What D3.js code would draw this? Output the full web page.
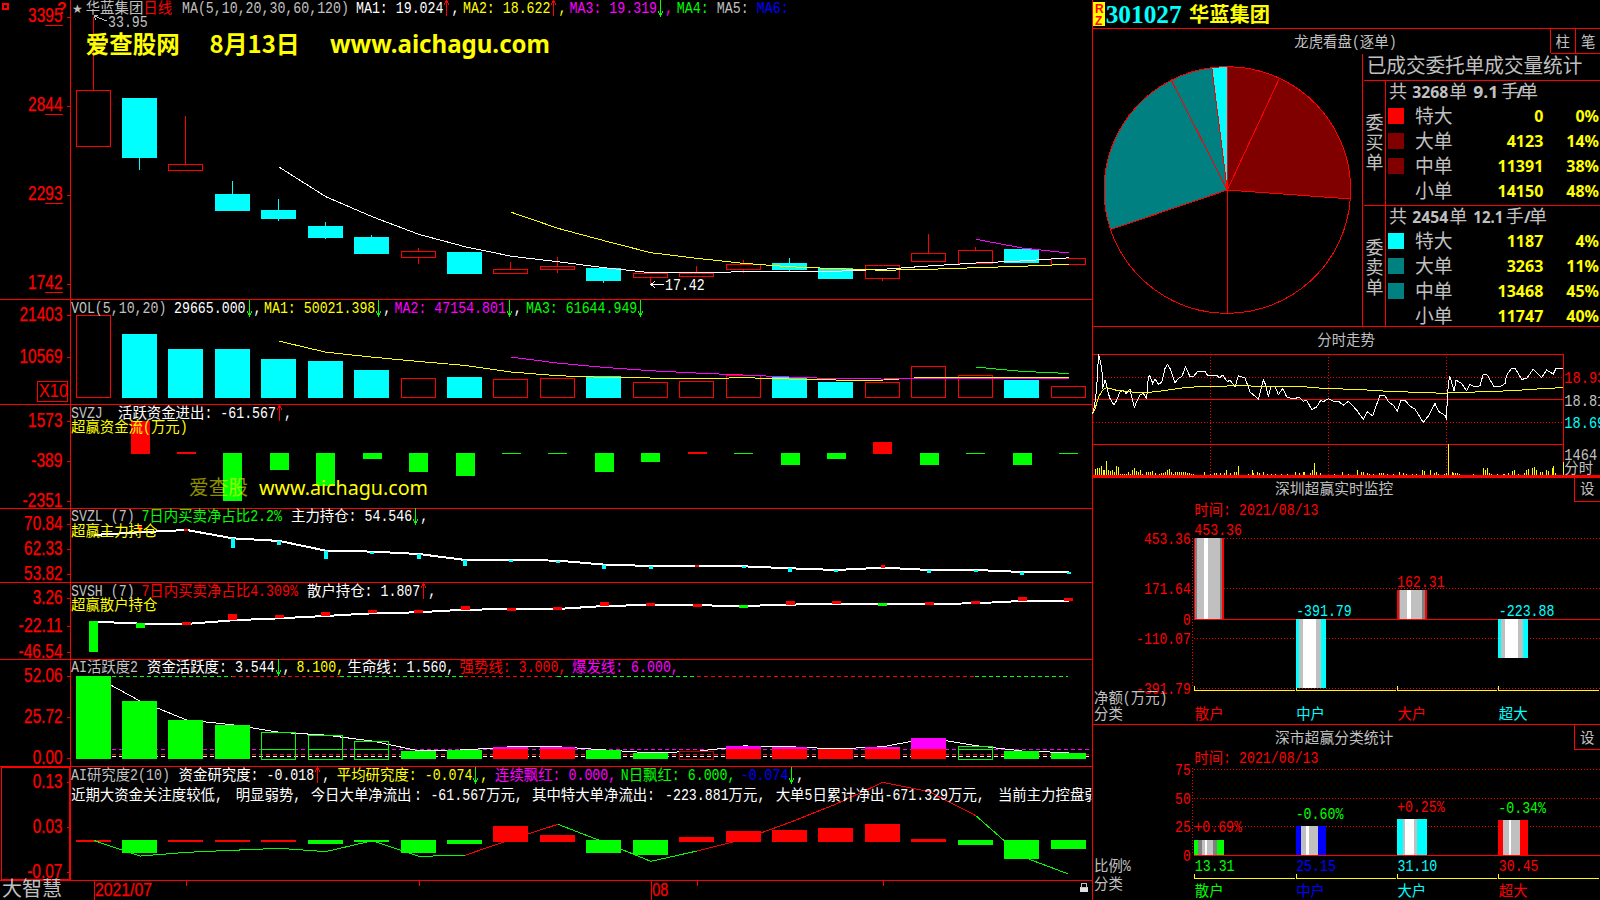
<!DOCTYPE html>
<html><head><meta charset="utf-8">
<style>html,body{margin:0;background:#000;overflow:hidden}svg{display:block}text{white-space:pre}</style>
<script src="https://cdn.jsdelivr.net/npm/d3@7"></script></head><body>
<svg id="c" width="1600" height="900"></svg>
<script>
// ---------- data ----------
const days=["07-15","07-16","07-19","07-20","07-21","07-22","07-23","07-26","07-27","07-28","07-29","07-30","08-02","08-03","08-04","08-05","08-06","08-09","08-10","08-11","08-12","08-13"];
const candleOpen=[25.96,28.92,24.48,22.97,21.98,20.99,20.31,19.09,19.38,18.10,18.35,18.39,17.85,17.92,18.31,18.70,18.39,17.79,18.84,18.72,19.57,18.66];
const candleClose=[29.39,25.28,24.81,21.98,21.49,20.31,19.32,19.43,18.08,18.31,18.50,17.65,18.06,18.10,18.64,18.33,17.77,18.56,19.30,19.49,18.76,18.99];
const candleHigh=[33.95,28.92,27.80,23.76,22.66,21.24,20.43,19.63,19.38,18.76,19.05,18.39,18.06,18.52,18.89,19.01,18.39,18.56,20.50,19.69,19.57,19.10];
const candleLow=[25.96,24.46,24.48,21.98,21.30,20.19,19.32,18.64,18.08,18.02,18.08,17.46,17.42,17.92,18.08,18.21,17.71,17.59,18.84,18.72,18.76,18.66];
const priceMA1=[null,null,null,null,24.63,22.81,21.57,20.48,19.71,19.12,18.78,18.41,18.10,18.10,18.16,18.19,18.19,18.31,18.52,18.70,18.83,19.02];
const priceMA2=[null,null,null,null,null,null,null,null,null,21.84,20.85,20.08,19.34,18.99,18.68,18.47,18.35,18.25,18.31,18.41,18.50,18.62];
const priceMA3=[null,null,null,null,null,null,null,null,null,null,null,null,null,null,null,null,null,null,null,20.17,19.63,19.32];
const priceTicks=[33.95,28.44,22.93,17.42];
const volume=[21403,16528,12618,12618,10011,9489,7143,4971,5318,4719,4971,5579,3928,4189,5753,5145,4015,3928,8099,5753,4536,2966];
const volumeHollow=[1,0,0,0,0,0,0,1,0,1,1,0,1,1,1,0,0,1,1,1,0,1];
const volMA1=[null,null,null,null,14617,11749,10445,9316,8273,6535,5579,5144,4970,4797,5057,4710,4449,4449,5231,5231,5231,5002];
const volMA2=[null,null,null,null,null,null,null,null,null,10445,8881,7751,6882,6274,5753,5231,4797,4710,4970,4970,4970,4715];
const volMA3=[null,null,null,null,null,null,null,null,null,null,null,null,null,null,null,null,null,null,null,7838,6708,6164];
const volTicks=[21403,10569];
const svzj=[null,1573,50,-2351,-834,-1650,-294,-932,-1128,-33,-25,-932,-441,49,-25,-589,-294,540,-589,-25,-589,-62];
const svzjTicks=[1573,-389,-2351];
const svzlLine=[67.21,68.12,68.91,66.07,65.17,61.88,61.54,60.74,58.70,58.70,58.47,57.11,56.66,56.66,56.54,55.86,55.29,56.09,55.29,55.29,54.61,54.55];
const svzlDelta=[null,2.5,0.34,-3.18,-1.36,-2.84,-0.68,-1.59,-2.04,-0.34,-0.45,-1.48,-1.02,0.34,-0.45,-1.25,-0.68,0.91,-1.02,-0.34,-1.02,-0.68];
const svzlTicks=[70.84,62.33,53.82];
const svshLine=[-18.50,-20.37,-20.68,-17.26,-15.39,-13.22,-10.73,-9.80,-7.31,-7.00,-6.69,-3.89,-2.96,-3.27,-3.89,-2.65,-1.71,-2.03,-2.03,-1.40,0.77,1.20];
const svshDelta=[-28,-4.04,0.93,4.97,2.17,2.8,2.17,1.0,2.17,0.6,0.6,2.8,0.6,0.6,-1.2,2.0,1.2,-1.2,1.2,1.2,2.8,1.2];
const svshTicks=[3.26,-22.11,-46.54];
const activity=[52.06,36.1,24.2,21.1,16.4,14.6,10.9,4.7,5.3,7.3,7.3,5.3,3.4,4.4,7.8,7.3,5.9,7.3,12.8,8.0,4.6,3.54];
const activityKind=["g","g","g","g","hg","hg","hg","g","g","r","r","g","g","hr","r","r","r","r","r","hg","g","g"];
const activityTicks=[52.06,25.72,0];
const research=[0.002,-0.028,0.001,0.001,0.001,-0.006,-0.002,-0.028,-0.006,0.033,0.013,-0.027,-0.031,0.009,0.022,0.024,0.029,0.038,0.004,-0.009,-0.040,-0.018];
const researchAvg=[0.001,-0.034,-0.0256,-0.0211,-0.0167,-0.024,0,-0.0345,-0.0322,0.0033,0.0367,-0.0033,-0.0456,-0.0226,0.0033,0.041,0.082,0.13,0.109,0.056,-0.035,-0.074];
const researchTicks=[0.13,0.03,-0.07];
const weekTickDays=["07-19","07-26","08-03","08-09"];
const monthTickDays=["07-15","08-02"];

const pieLabels=["买特大","买大单","买中单","买小单","卖小单","卖中单","卖大单","卖特大"];
const pieValues=[0,4123,11391,14150,11747,13468,3263,1187];
const buyRows=["特大","大单","中单","小单"], buyVol=[0,4123,11391,14150], buyPct=["0%","14%","38%","48%"];
const sellRows=["特大","大单","中单","小单"], sellVol=[1187,3263,13468,11747], sellPct=["4%","11%","45%","40%"];

const tMin=[0,1,2,3,4,5,5.1,6.3,7.1,8,8.8,10.9,12.2,13.9,15.6,17,19,21.2,22.4,24.1,25.8,27.5,28.4,29.2,30.6,31.8,33.5,35.2,36.9,38.2,39.4,42,43.7,45.4,47.4,49.6,51.3,53.4,57.3,58.5,63.2,64.6,66.3,68.7,70,72.6,74.3,77.7,80.2,84.5,87,87.9,89.6,90.8,93,94.7,96.9,98.9,102.7,105.2,107.4,109.1,111.7,114.2,116.3,117.6,120.2,122.7,125.3,127.8,130.4,134.6,138,140.1,142.8,146.5,149.1,150.8,153.3,155.4,157.1,159.3,161.8,164.4,168.6,171.2,174.6,176.3,180,180.3,181.4,182.2,184.3,185.3,188.2,190.7,192.4,195,197.5,199.2,201.3,204.7,207.7,210.3,211.1,213.7,215.4,218.8,221.3,224.7,229,231.5,234.9,236.3,240];
const tPrice=[18.736,18.78,18.868,19.048,19.009,18.938,18.868,18.912,18.886,18.842,18.815,18.78,18.806,18.85,18.859,18.842,18.865,18.768,18.798,18.833,18.842,18.815,18.93,18.935,18.894,18.917,18.891,18.9,18.974,18.995,18.974,18.898,18.921,18.93,18.982,18.93,18.93,18.956,18.96,18.938,18.938,18.924,18.938,18.903,18.912,18.877,18.935,18.924,18.85,18.812,18.912,18.894,18.824,18.877,18.877,18.836,18.868,18.824,18.812,18.824,18.801,18.806,18.757,18.771,18.806,18.798,18.815,18.801,18.801,18.78,18.801,18.754,18.706,18.745,18.724,18.833,18.829,18.798,18.78,18.748,18.806,18.806,18.775,18.759,18.689,18.724,18.789,18.748,18.724,18.704,18.903,18.93,18.854,18.912,18.894,18.856,18.889,18.877,18.882,18.944,18.938,18.877,18.877,18.894,18.938,18.974,18.974,18.916,18.921,18.97,18.926,18.965,18.944,18.974,18.974];
const avgMin=[0,1,3,5,7,12,19,27,38,47,57,74,87,108,118,135,152,169,180,181,197,213,226,240];
const avgPrice=[18.736,18.754,18.824,18.859,18.873,18.859,18.85,18.845,18.859,18.873,18.879,18.882,18.88,18.877,18.868,18.863,18.852,18.847,18.842,18.845,18.85,18.856,18.865,18.873];
const tVolMin=[1,2,3,4,5,6,7,8,9,10,11,12,13,14,15,16,17,18,19,20,21,22,23,24,25,27,28,29,30,32,34,35,36,37,38,39,40,41,42,43,44,45,46,47,48,49,50,51,57,60,62,63,65,67,68,70,72,73,74,79,81,82,84,85,87,89,91,93,96,99,103,105,107,108,111,112,113,114,116,123,127,130,135,137,138,140,141,143,146,147,148,150,153,156,158,160,163,165,168,169,172,174,175,176,179,180,181,183,184,185,186,187,194,199,200,201,202,203,206,209,210,212,214,215,217,220,221,222,224,225,226,228,229,231,232,234,235,236,240];
const tVol=[286,350,350,445,223,238,668,254,191,223,159,445,382,48,48,48,48,127,64,223,350,191,127,223,48,127,159,159,191,80,48,80,111,127,223,286,127,48,127,127,127,127,127,127,95,95,48,48,127,64,80,111,95,80,223,95,127,159,445,48,223,95,127,80,159,64,48,48,48,48,159,80,159,127,95,254,572,159,80,48,159,48,254,127,127,80,64,48,95,80,80,48,64,159,80,48,48,48,223,191,223,95,159,64,48,80,1464,127,80,80,80,64,48,318,223,350,80,64,48,48,64,95,191,223,48,80,223,286,350,397,223,159,127,223,191,350,445,80,604];
const tTicks=[18.93,18.81,18.69];

const flowCats=["散户","中户","大户","超大"];
const flowVals=[453.36,-391.79,162.31,-223.88];
const flowTicks=[453.36,171.64,0,-110.07,-391.79];
const shareVals=[13.31,25.15,31.10,30.45];
const shareChg=["+0.69%","-0.60%","+0.25%","-0.34%"];
const shareTicks=[75,50,25,0];

// ---------- helpers ----------
const RED="#ff0000",CY="#00ffff",GR="#00ff00",YE="#ffff00",MA="#ff00ff",GY="#c0c0c0",WH="#ffffff",BL="#0000ff",TEAL="#008080",DR="#800000";
const CJK="'Noto Sans CJK SC'",MONO="'Liberation Mono','DejaVu Sans Mono',monospace",SANS="'Liberation Sans',sans-serif";
const svg=d3.select("#c");
svg.append("rect").attr("width",1600).attr("height",900).attr("fill","#000");
svg.append("defs").append("clipPath").attr("id","leftClip").append("rect").attr("width",1092).attr("height",900);
const gBack=svg.append("g").attr("shape-rendering","crispEdges");
const gMark=svg.append("g").attr("shape-rendering","crispEdges");
const gText=svg.append("g");
const gArrow=svg.append("g").attr("shape-rendering","crispEdges").attr("fill","none");
function T(x,y,s,o={}){
  const t=gText.append("text").attr("x",x).attr("y",y).text(s).attr("fill",o.fill||GY)
    .attr("font-family",o.font||CJK).attr("font-size",o.size||15);
  if(o.weight)t.attr("font-weight",o.weight);
  if(o.anchor)t.attr("text-anchor",o.anchor);
  if(o.len)t.attr("textLength",o.len).attr("lengthAdjust","spacingAndGlyphs");
  if(o.opacity)t.attr("opacity",o.opacity);
  if(o.clip)t.attr("clip-path","url(#leftClip)");
  if(o.stroke)t.attr("stroke",o.fill).attr("stroke-width",o.stroke);
  return t;
}
function arrow(cx,y,dir,c){
  const top=y-13,bot=y+3;
  const d=dir<0?`M${cx},${bot}V${top}M${cx-2.5},${top+5}L${cx},${top}L${cx+2.5},${top+5}`
               :`M${cx},${top}V${bot}M${cx-2.5},${bot-5}L${cx},${bot}L${cx+2.5},${bot-5}`;
  gArrow.append("path").attr("d",d).attr("stroke",c);
}
function rich(x,y,segs,o={}){
  const cw=o.cw||14.4,aw=o.aw||7.95,fs=o.fs||15;
  let cx=x;
  for(const [str,col] of segs){
    for(const run of str.match(/[↑↓]|[\x00-\x7f]+|[^\x00-\x7f↑↓]+/g)){
      if(run==="↑"||run==="↓"){arrow(Math.round(cx+3)+.5,y,run==="↑"?-1:1,col);cx+=aw;continue;}
      const ascii=/[\x00-\x7f]/.test(run[0]);
      if(ascii){const w=run.length*aw;T(cx,y,run,{fill:col,font:MONO,size:o.as||16,len:w,clip:o.clip});cx+=w;}
      else{const w=run.length*cw;T(cx,y,run,{fill:col,font:CJK,size:fs,len:w,clip:o.clip});cx+=w;}
    }
  }
  return cx;
}
function hline(x1,x2,y,c=RED,w=1,dash){const l=gBack.append("line").attr("x1",x1).attr("x2",x2).attr("y1",y).attr("y2",y).attr("stroke",c).attr("stroke-width",w);if(dash)l.attr("stroke-dasharray",dash);return l;}
function vline(x,y1,y2,c=RED,w=1,dash){const l=gBack.append("line").attr("x1",x).attr("x2",x).attr("y1",y1).attr("y2",y2).attr("stroke",c).attr("stroke-width",w);if(dash)l.attr("stroke-dasharray",dash);return l;}
const tickLen=s=>[...s].reduce((a,c)=>a+(c==="."?4:c==="-"?5.5:8.6),0);
function leftAxis(scale,ticks,fmt,dy=6){
  const g=gBack.append("g").attr("transform","translate(70.5,0)")
    .call(d3.axisLeft(scale).tickValues(ticks).tickSize(4).tickPadding(4).tickFormat(fmt));
  g.select(".domain").remove();
  g.selectAll(".tick line").attr("stroke",RED);
  g.selectAll(".tick text").remove();
  ticks.forEach(v=>{const s=fmt(v);T(62.5,scale(v)+dy,s,{fill:RED,font:SANS,size:20,anchor:"end",len:tickLen(s),stroke:.25});});
}
const x=d3.scalePoint().domain(days).range([93.6,1068.6]);
const BW=35;
const lineOf=(y)=>d3.line().defined(d=>d!=null).x((d,i)=>x(days[i])).y(d=>y(d));
function drawLine(y,arr,col,w=1){gMark.append("path").attr("d",lineOf(y)(arr)).attr("fill","none").attr("stroke",col).attr("stroke-width",w);}

// ---------- frames ----------
[299,404,508,582,659,766,880].forEach(y=>hline(0,1092.5,y+.5));
vline(70.5,0,880); vline(1092.5,0,900);
gBack.append("rect").attr("x",1.5).attr("y",767.5).attr("width",68).attr("height",112).attr("fill","none").attr("stroke",RED);

// ---------- main candles ----------
const yP=d3.scaleLinear().domain([17.42,33.95]).range([283.7,16.7]);
leftAxis(yP,priceTicks,v=>String(Math.round(v*100)),5);
priceTicks.forEach(v=>hline(45,62.5,Math.round(yP(v))+8.5));
days.forEach((d,i)=>{
  const up=candleClose[i]>=candleOpen[i],c=up?RED:CY,cx=Math.round(x(d))-.5;
  gMark.append("line").attr("x1",cx).attr("x2",cx).attr("y1",yP(candleHigh[i])).attr("y2",yP(candleLow[i])).attr("stroke",c);
  const top=Math.round(yP(Math.max(candleOpen[i],candleClose[i]))),bot=Math.round(yP(Math.min(candleOpen[i],candleClose[i])));
  gMark.append("rect").attr("x",cx-17).attr("y",top+.5).attr("width",BW-1).attr("height",Math.max(1,bot-top))
    .attr("fill",up?"#000":CY).attr("stroke",c);
});
drawLine(yP,priceMA1,WH);drawLine(yP,priceMA2,YE);drawLine(yP,priceMA3,MA);

// ---------- volume ----------
const yV=d3.scaleLinear().domain([0,21403]).range([397,315.3]);
leftAxis(yV,volTicks,v=>String(v));
days.forEach((d,i)=>{
  const up=volumeHollow[i],c=up?RED:CY,cx=Math.round(x(d))-.5;
  gMark.append("rect").attr("x",cx-17).attr("y",Math.round(yV(volume[i]))+.5).attr("width",BW-1).attr("height",397-Math.round(yV(volume[i])))
    .attr("fill",up?"#000":CY).attr("stroke",c);
});
drawLine(yV,volMA1,YE);drawLine(yV,volMA2,MA);drawLine(yV,volMA3,GR);
gBack.append("rect").attr("x",37.5).attr("y",381.5).attr("width",30).attr("height",20).attr("fill","none").attr("stroke",RED);
T(39,397,"X10",{fill:RED,font:SANS,size:18,len:29});

// ---------- SVZJ ----------
const yZ=d3.scaleLinear().domain([-2351,1573]).range([500.7,420.7]);
leftAxis(yZ,svzjTicks,v=>String(v));
days.forEach((d,i)=>{ if(svzj[i]==null)return;
  const v=svzj[i],y0=yZ(0),y1=yZ(v);
  gMark.append("rect").attr("x",x(d)-9.5).attr("width",19).attr("y",Math.min(y0,y1)).attr("height",Math.max(v>0?2:1,Math.abs(y1-y0)+(v>0?1:0))).attr("fill",v>0?RED:GR);
});

// ---------- SVZL ----------
const yL=d3.scaleLinear().domain([53.82,70.84]).range([574.3,524.3]);
leftAxis(yL,svzlTicks,v=>v.toFixed(2));
drawLine(yL,svzlLine,WH,2);
days.forEach((d,i)=>{ if(svzlDelta[i]==null)return;
  const a=yL(svzlLine[i]),b=yL(svzlLine[i]+svzlDelta[i]);
  gMark.append("rect").attr("x",x(d)-2).attr("width",4).attr("y",Math.min(a,b)).attr("height",Math.max(2,Math.abs(a-b))).attr("fill",svzlDelta[i]>0?RED:CY);
});

// ---------- SVSH ----------
const yS=d3.scaleLinear().domain([-46.54,3.26]).range([651.7,598.3]);
leftAxis(yS,svshTicks,v=>v.toFixed(2));
drawLine(yS,svshLine,WH,2);
days.forEach((d,i)=>{
  const a=yS(svshLine[i]),b=yS(svshLine[i]+svshDelta[i]);
  gMark.append("rect").attr("x",x(d)-4.5).attr("width",9).attr("y",Math.min(a,b)-1).attr("height",Math.max(2,Math.abs(a-b))+1).attr("fill",svshDelta[i]>0?RED:GR);
});

// ---------- AI activity ----------
const yA=d3.scaleLinear().domain([0,52.06]).range([758.3,675.7]);
leftAxis(yA,activityTicks,v=>v.toFixed(2));
const topDash=[[112,232,GR],[232,340,RED],[340,464,GR],[464,557,RED],[557,697,GR],[697,975,RED],[975,1068,GR]];
topDash.forEach(([a,b,c])=>hline(a,b,Math.round(yA(52.06))+.5,c,1,"4 3"));
hline(112,1092,Math.round(yA(6))+.5,MA,1,"4 3");
hline(112,1092,Math.round(yA(3))+.5,RED,1,"4 3");
hline(112,1092,Math.round(yA(1.56))+.5,WH,1,"4 3");
drawLine(yA,activity,WH);
const A0=Math.round(yA(0))+1;
days.forEach((d,i)=>{
  const k=activityKind[i],v=activity[i],xx=Math.round(x(d))-18,t=Math.round(yA(v));
  if(k==="hg"||k==="hr"){
    const c=k==="hg"?GR:"#c00000";
    gMark.append("rect").attr("x",xx+.5).attr("y",t+.5).attr("width",BW-1).attr("height",A0-t).attr("fill","none").attr("stroke",c);
    if(v>6)gMark.append("line").attr("x1",xx).attr("x2",xx+BW).attr("y1",Math.round(yA(6))+.5).attr("y2",Math.round(yA(6))+.5).attr("stroke",c);
  }else if(k==="g"){
    gMark.append("rect").attr("x",xx).attr("y",t).attr("width",BW).attr("height",A0-t).attr("fill",GR);
  }else{
    const s=Math.round(yA(Math.min(v,6)));
    gMark.append("rect").attr("x",xx).attr("y",s).attr("width",BW).attr("height",A0-s).attr("fill",RED);
    if(v>6)gMark.append("rect").attr("x",xx).attr("y",t).attr("width",BW).attr("height",s-t).attr("fill",MA);
  }
});

// ---------- AI research ----------
const yR=d3.scaleLinear().domain([-0.07,0.13]).range([872.3,782.3]);
leftAxis(yR,researchTicks,v=>v.toFixed(2));
days.forEach((d,i)=>{
  const v=research[i],y0=yR(0),y1=yR(v);
  gMark.append("rect").attr("x",Math.round(x(d))-18).attr("width",BW).attr("y",Math.min(y0,y1)-(v<0?1:0)).attr("height",Math.max(2,Math.abs(y1-y0)+1)).attr("fill",v>0?RED:GR);
});
const isRedSeg=i=>(i>=8&&i<=9)||(i>=13&&i<=18);
researchAvg.slice(0,-1).forEach((v,i)=>{
  gMark.append("line").attr("x1",x(days[i])).attr("x2",x(days[i+1])).attr("y1",yR(v)).attr("y2",yR(researchAvg[i+1])).attr("stroke",isRedSeg(i)?RED:GR);
});

// ---------- date axis ----------
const gx=gBack.append("g").attr("transform","translate(0,880.5)").call(d3.axisBottom(x).tickValues(weekTickDays).tickSize(5).tickFormat(""));
gx.select(".domain").remove(); gx.selectAll("line").attr("stroke",RED);
monthTickDays.forEach(d=>vline(Math.round(x(d))+.5,880,900));
T(95,896,"2021/07",{fill:RED,font:SANS,size:19,len:57,stroke:.25});
T(x("08-02")+1.5,896,"08",{fill:RED,font:SANS,size:19,len:16,stroke:.25});
rich(2,896,[["大智慧",GY]],{cw:20,fs:20});
gBack.append("rect").attr("x",1080).attr("y",887).attr("width",8).attr("height",5).attr("fill","#e0e0e0");
gBack.append("rect").attr("x",1081.5).attr("y",883.5).attr("width",5).attr("height",3.5).attr("fill","none").attr("stroke","#c0c0c0");

// ---------- left texts ----------
gBack.append("rect").attr("x",3).attr("y",4).attr("width",5).attr("height",5).attr("fill","none").attr("stroke",RED).attr("stroke-width",2);
T(57,14,"?",{fill:RED,font:SANS,size:16,weight:"bold"});
T(72,13,"★",{fill:GY,font:"'DejaVu Sans'",size:12});
rich(85.7,13,[["华蓝集团",GY],["日线",RED]]);
rich(182,13,[["MA(5,10,20,30,60,120)",GY]]);
rich(356,13,[["MA1: 19.024",WH],["↑",RED],[",",WH]]);
rich(463,13,[["MA2: 18.622",YE],["↑",RED],[",",YE]]);
rich(569.6,13,[["MA3: 19.319",MA],["↓",GR],[",",MA]]);
rich(676.8,13,[["MA4:",GR]]);rich(716.8,13,[["MA5:",GY]]);rich(756.8,13,[["MA6:",BL]]);
rich(108,27,[["33.95",GY]]);
gArrow.append("path").attr("d","M107,21L94,16M94,16L98,15M94,16L96,20").attr("stroke",GY);
rich(665,289.5,[["17.42",WH]]);
gArrow.append("path").attr("d","M664,284.5H651M655,281.5L651,284.5L655,287.5").attr("stroke",WH);
T(85.7,53,"爱查股网",{fill:YE,size:24,weight:"bold",len:94});
T(209.6,53,"8月13日",{fill:YE,size:24,weight:"bold",len:90});
T(330,53,"www.aichagu.com",{fill:YE,font:"'Noto Sans'",size:25,weight:"bold",len:220});

rich(71,313,[["VOL(5,10,20)",GY]]);
rich(174,313,[["29665.000",WH],["↓",GR],[",",WH]]);
rich(264,313,[["MA1: 50021.398",YE],["↓",GR],[",",WH]]);
rich(394.6,313,[["MA2: 47154.801",MA],["↓",GR],[",",WH]]);
rich(526,313,[["MA3: 61644.949",GR],["↓",GR]]);

rich(71,418,[["SVZJ",GY]]);
rich(118,418,[["活跃资金进出: -61.567",WH],["↑",RED],[",",WH]]);
rich(71,432,[["超赢资金流(万元)",YE]]);
T(189,495,"爱查股",{fill:YE,size:20,len:59,opacity:.55});
T(259,495,"www.aichagu.com",{fill:YE,font:"'Noto Sans'",size:20,len:169});

rich(71,521,[["SVZL (7)",GY]]);
rich(141.4,521,[["7日内买卖净占比2.2%",GR]]);
rich(291,521,[["主力持仓: 54.546",WH],["↓",GR],[",",WH]]);
rich(71,536,[["超赢主力持仓",YE]]);

rich(71,596,[["SVSH (7)",GY]]);
rich(141.4,596,[["7日内买卖净占比4.309%",RED]]);
rich(307,596,[["散户持仓: 1.807",WH],["↑",RED],[",",WH]]);
rich(71,610,[["超赢散户持仓",YE]]);

rich(71,672,[["AI活跃度2",GY]]);
rich(147,672,[["资金活跃度: 3.544",WH],["↓",GR],[",",WH]]);
rich(296.4,672,[["8.100,",YE]]);
rich(347.5,672,[["生命线: 1.560,",WH]]);
rich(459.6,672,[["强势线: 3.000,",RED]]);
rich(572,672,[["爆发线: 6.000,",MA]]);

rich(71,780,[["AI研究度2(10)",GY]]);
rich(178.6,780,[["资金研究度: -0.018",WH],["↑",RED],[",",WH]]);
rich(336.8,780,[["平均研究度: -0.074",YE],["↓",GR],[",",YE]]);
rich(495,780,[["连续飘红: 0.000,",MA]]);
rich(620.7,780,[["N日飘红: 6.000,",GR]]);
rich(740.7,780,[["-0.074",BL],["↓",GR],[",",WH]]);
const noteY=800;
[[71,"近期大资金关注度较低,"],[235.7,"明显弱势,"],[310.7,"今日大单净流出"],[414,":"],[430.4,"-61.567万元,"],[532,"其中特大单净流出"],[647,":"],[665,"-223.881万元,"],[775.7,"大单5日累计净出-671.329万元,"],[997.9,"当前主力控盘弱"]]
 .forEach(([xx,s])=>rich(xx,noteY,[[s,WH]],{clip:true}));

// ---------- right header ----------
gBack.append("rect").attr("x",1093).attr("y",2).attr("width",12).attr("height",24).attr("fill",YE);
T(1095,13,"R",{fill:RED,font:SANS,size:12,weight:"bold"});
T(1095,25,"Z",{fill:RED,font:SANS,size:12,weight:"bold"});
T(1105.7,23,"301027",{fill:CY,font:"'Liberation Serif'",size:25,weight:"bold",len:76});
T(1189,22,"华蓝集团",{fill:YE,size:20,weight:"bold",len:81});
hline(1092.5,1600,28.5);
rich(1294.3,47,[["龙虎看盘(逐单)",GY]]);
[1550.5,1575.5].forEach(a=>vline(a,28,53));
hline(1550.5,1600,53.5);
rich(1555.5,47,[["柱",GY]]);rich(1581,47,[["笔",GY]]);

// ---------- pie ----------
const pieColors=[RED,DR,DR,"#000","#000",TEAL,TEAL,CY];
const arcs=d3.pie().sort(null).value(d=>d)(pieValues);
gMark.append("g").attr("transform","translate(1227.3,190)").selectAll("path").data(arcs).join("path")
  .attr("d",d3.arc().innerRadius(0).outerRadius(123.3)).attr("fill",(d,i)=>pieColors[i]).attr("stroke",RED).attr("stroke-width",1);

// ---------- table ----------
vline(1362.5,54,326);
hline(1364,1600,80.5);vline(1385.5,80,326);hline(1364,1600,205.5);
hline(1092.5,1600,326.5);
rich(1366.7,73,[["已成交委托单成交量统计",GY]],{cw:19.6,fs:20});
const NS={font:"'Noto Sans'",size:16,weight:"bold"};
rich(1389,98,[["共",GY]],{cw:18,fs:18});
T(1412.3,98,"3268",{...NS,len:36});rich(1449.3,98,[["单",GY]],{cw:18,fs:18});
T(1473.3,98,"9.1",{...NS,len:25});rich(1501,98,[["手",GY]],{cw:18,fs:18});
T(1516.5,98,"/",{...NS});rich(1520,98,[["单",GY]],{cw:18,fs:18});
rich(1389,223,[["共",GY]],{cw:18,fs:18});
T(1412.3,223,"2454",{...NS,len:36});rich(1449.3,223,[["单",GY]],{cw:18,fs:18});
T(1473.3,223,"12.1",{...NS,len:30});rich(1505.7,223,[["手",GY]],{cw:18,fs:18});
T(1524,223,"/",{...NS});rich(1529,223,[["单",GY]],{cw:18,fs:18});
const rowY1=[116,141,166,191],rowY2=[241,266,291,316];
const swatch1=[RED,DR,DR,null],swatch2=[CY,TEAL,TEAL,null];
function tableRows(rows,vals,pcts,ys,sw){
  rows.forEach((r,i)=>{
    if(sw[i])gBack.append("rect").attr("x",1388).attr("y",ys[i]-8).attr("width",16).attr("height",16).attr("fill",sw[i]);
    rich(1415,ys[i]+6.5,[[r,GY]],{cw:18.8,fs:19});
    T(1543.3,ys[i]+6,String(vals[i]),{fill:YE,font:"'Noto Sans'",size:16,weight:"bold",anchor:"end"});
    T(1599,ys[i]+6,pcts[i],{fill:YE,font:"'Noto Sans'",size:16,weight:"bold",anchor:"end"});
  });
}
tableRows(buyRows,buyVol,buyPct,rowY1,swatch1);
tableRows(sellRows,sellVol,sellPct,rowY2,swatch2);
[["委",129],["买",149],["单",169],["委",254],["卖",274],["单",294]].forEach(([c,y])=>T(1365.5,y,c,{size:18}));

// ---------- intraday ----------
const xT=d3.scaleLinear().domain([0,240]).range([1092.7,1563.3]);
const yT=d3.scaleLinear().domain([18.69,18.93]).range([422.3,376.7]);
const yTV=d3.scaleLinear().domain([0,1464]).range([475,444]);
rich(1317.3,345,[["分时走势",GY]]);
hline(1092.5,1563.5,354.5);hline(1092.5,1563.5,444.5);hline(1092.5,1563.5,399.5);
vline(1563.5,354,475);
hline(1092.5,1600,475.5,RED,2);
tTicks.forEach((v,i)=>{if(i!==1)hline(1092.5,1563.5,Math.round(yT(v))+.5,RED,1,"1 2");});
[60,120,180].forEach(m=>vline(Math.round(xT(m))+.5,354,475,RED,1,"1 2"));
tVolMin.forEach((m,i)=>{
  gMark.append("line").attr("x1",Math.round(xT(m))+.5).attr("x2",Math.round(xT(m))+.5).attr("y1",yTV(tVol[i])).attr("y2",475).attr("stroke",YE);
});
gMark.append("path").attr("d",d3.line().x(d=>xT(d[0])).y(d=>yT(d[1]))(tMin.map((m,i)=>[m,tPrice[i]]))).attr("fill","none").attr("stroke",WH);
gMark.append("path").attr("d",d3.line().x(d=>xT(d[0])).y(d=>yT(d[1]))(avgMin.map((m,i)=>[m,avgPrice[i]]))).attr("fill","none").attr("stroke",YE);
[[18.93,RED],[18.81,GY],[18.69,CY]].forEach(([v,c])=>rich(1564.3,yT(v)+6,[[v.toFixed(2),c]],{aw:8.2,as:17}));
rich(1564.3,460,[["1464",GY]],{aw:8.2,as:17});
rich(1564.3,473,[["分时",GY]]);

// ---------- flow monitor ----------
const xC=d3.scalePoint().domain(flowCats).range([1194.3,1498.3]);
const stripes=(xx,y0,y1,pat)=>pat.forEach(([a,b,c])=>gMark.append("rect").attr("x",xx+a/3).attr("width",(b-a)/3).attr("y",y0).attr("height",y1-y0).attr("fill",c));
const G1="#808080";
const flowPat=[
 [[0,3,RED],[3,7,G1],[7,29,GY],[29,41,WH],[41,77,GY],[77,83,G1],[83,90,RED]],
 [[0,9,CY],[9,21,GY],[21,60,WH],[60,75,GY],[75,90,CY]],
 [[0,6,RED],[6,9,G1],[9,30,GY],[30,42,WH],[42,75,GY],[75,84,G1],[84,90,RED]],
 [[0,9,CY],[9,21,GY],[21,60,WH],[60,75,GY],[75,90,CY]]];
const yF=d3.scaleLinear().domain([-391.79,453.36]).range([688.3,538.3]);
hline(1092.5,1600,476.5,RED,2);
rich(1275,494,[["深圳超赢实时监控",GY]],{cw:14.8});
gBack.append("rect").attr("x",1574.5).attr("y",477).attr("width",26).attr("height",24.5).attr("fill","none").attr("stroke",RED);
rich(1580,494,[["设",GY]]);
rich(1194.3,515,[["时间: 2021/08/13",RED]]);
vline(1192.5,538,688,RED,1,"1 2");
flowTicks.forEach(v=>{ if(v!==0)hline(1194,1600,Math.round(yF(v))+.5,RED,1,"1 2");});
function rightAxis(scale,ticks){
  const g=gBack.append("g").attr("transform","translate(1192.7,0)").call(d3.axisLeft(scale).tickValues(ticks).tickSize(0).tickPadding(2));
  g.select(".domain").remove(); g.selectAll("text").remove();
  ticks.forEach(v=>{const s=String(v);T(1190.7,scale(v)+6,s,{fill:RED,font:MONO,size:16,anchor:"end",len:s.length*7.8});});
}
rightAxis(yF,flowTicks);
flowVals.forEach((v,i)=>{
  const a=Math.min(yF(v),yF(0)),b=Math.max(yF(v),yF(0));
  stripes(xC(flowCats[i]),a,b,flowPat[i]);
  const up=v>0;
  rich(xC(flowCats[i])+(up?0:.5),up?yF(v)-3:yF(0)-3,[[v.toFixed(2),up?RED:CY]]);
  rich(xC(flowCats[i])+.5,718.5,[[flowCats[i],up?RED:CY]]);
});
hline(1194,1600,Math.round(yF(0))+.5);
function catAxis(y){
  flowCats.forEach((c,i)=>{
    const a=xC(c);
    hline(a,a+100.5,y+.5,YE);
    vline(Math.round(a)+.5,y-4,y,YE);
  });
}
catAxis(690);
rich(1094,703,[["净额(万元)",GY]]);
rich(1094,718.5,[["分类",GY]]);

// ---------- share stats ----------
const yH=d3.scaleLinear().domain([0,75]).range([855.3,768.7]);
hline(1092.5,1600,724.5);
rich(1275,742.5,[["深市超赢分类统计",GY]],{cw:14.8});
gBack.append("rect").attr("x",1574.5).attr("y",724.5).attr("width",26).attr("height",25).attr("fill","none").attr("stroke",RED);
rich(1580,743,[["设",GY]]);
rich(1194.3,763,[["时间: 2021/08/13",RED]]);
vline(1192.5,768,855,RED,1,"1 2");
shareTicks.forEach(v=>{ if(v!==0)hline(1194,1600,Math.round(yH(v))+.5,RED,1,"1 2");});
rightAxis(yH,shareTicks);
const shareCol=[GR,BL,CY,RED];
const sharePat=[
 [[0,12,GR],[12,24,G1],[24,33,GY],[33,39,WH],[39,57,GY],[57,69,G1],[69,90,GR]],
 [[0,15,BL],[15,30,GY],[30,39,WH],[39,66,GY],[66,90,BL]],
 [[0,18,CY],[18,24,GY],[24,51,WH],[51,60,GY],[60,90,CY]],
 [[0,15,RED],[15,33,GY],[33,39,WH],[39,66,GY],[66,90,RED]]];
shareVals.forEach((v,i)=>{
  const c=flowCats[i],X=xC(c);
  stripes(X,yH(v),yH(0),sharePat[i]);
  if(i===0||i===2)hline(X,X+30,Math.round(yH(v))+.5,YE);
  const chg=shareChg[i];
  rich(X,yH(v)-7+(i===0?-1:0),[[chg,chg[0]==="+"?RED:GR]]);
  rich(X+.5,870.5,[[v.toFixed(2),shareCol[i]]]);
  rich(X+.5,896,[[c,shareCol[i]]]);
});
hline(1194,1600,855.5);
catAxis(878);
rich(1094,870.5,[["比例%",GY]]);
rich(1094,888.5,[["分类",GY]]);
</script></body></html>
